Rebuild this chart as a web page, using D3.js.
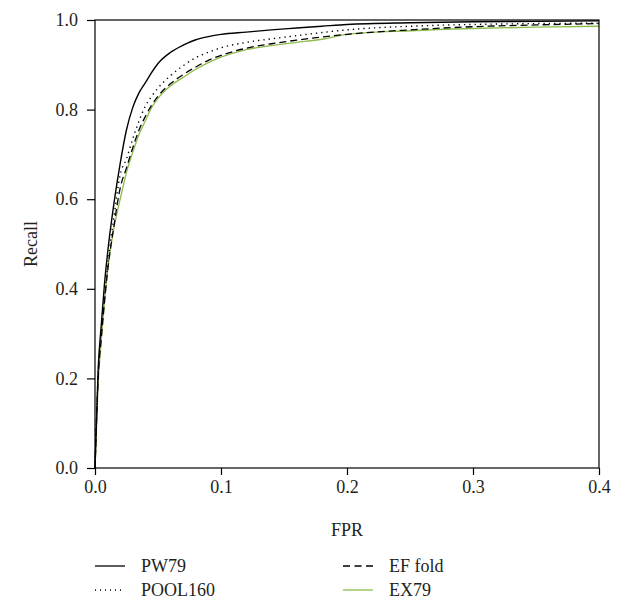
<!DOCTYPE html>
<html>
<head>
<meta charset="utf-8">
<script src="https://cdn.jsdelivr.net/npm/d3@7"></script>
<style>
  body { margin: 0; background: #fff; }
  svg text { font-family: 'Liberation Serif', 'Times New Roman', 'DejaVu Serif', serif !important; fill: #231f20; }
</style>
</head>
<body>
<svg id="roc_svg"></svg>
<script>
// shared FPR grid and recall per model
var fpr = [0, 0.0025, 0.005, 0.0075, 0.01, 0.015, 0.02, 0.025, 0.03, 0.035, 0.04, 0.045, 0.05,
  0.06, 0.07, 0.08, 0.09, 0.1, 0.12, 0.14, 0.16, 0.18, 0.2, 0.25, 0.3, 0.35, 0.4];
var pw79 = [0, 0.22, 0.32, 0.41, 0.48, 0.59, 0.68, 0.755, 0.805, 0.838, 0.86, 0.883, 0.903,
  0.928, 0.944, 0.956, 0.963, 0.968, 0.973, 0.978, 0.982, 0.986, 0.99, 0.994, 0.996, 0.997, 0.998];
var pool160 = [0, 0.21, 0.30, 0.38, 0.45, 0.56, 0.655, 0.69, 0.735, 0.775, 0.808, 0.83, 0.848,
  0.876, 0.898, 0.916, 0.928, 0.938, 0.95, 0.958, 0.965, 0.972, 0.978, 0.986, 0.99, 0.992, 0.993];
var efFold = [0, 0.2, 0.29, 0.37, 0.44, 0.54, 0.625, 0.67, 0.715, 0.755, 0.785, 0.81, 0.83,
  0.858, 0.878, 0.895, 0.91, 0.921, 0.937, 0.947, 0.955, 0.962, 0.968, 0.978, 0.985, 0.989, 0.992];
var ex79 = [0, 0.19, 0.285, 0.37, 0.44, 0.535, 0.60, 0.66, 0.705, 0.745, 0.775, 0.805, 0.825,
  0.853, 0.872, 0.89, 0.905, 0.917, 0.934, 0.943, 0.95, 0.957, 0.968, 0.976, 0.981, 0.984, 0.986];
var seriesNames = ["PW79", "POOL160", "EF fold", "EX79"];
var xTicks = [0, 0.1, 0.2, 0.3, 0.4];
var yTicks = [0, 0.2, 0.4, 0.6, 0.8, 1.0];

var svgWidth = 631, svgHeight = 602;
var margin = { top: 20, right: 32, bottom: 134, left: 95 };
var width = svgWidth - margin.left - margin.right;
var height = svgHeight - margin.top - margin.bottom;
var fontSize = 18;

var svg = d3.select('#roc_svg')
  .attr('width', svgWidth)
  .attr('height', svgHeight);

var chart = svg.append('g')
  .attr('transform', `translate(${margin.left}, ${margin.top})`);

var x = d3.scaleLinear().domain([0, 0.4]).range([0, width]);
var y = d3.scaleLinear().domain([0, 1]).range([height, 0]);

var styles = {
  "PW79":    { color: "#000", dash: null, w: 1.4, legendDash: null },
  "POOL160": { color: "#000", dash: "1.3,4", w: 1.4, legendDash: "1,4" },
  "EF fold": { color: "#000", dash: "7,4", w: 1.3, legendDash: "7,4.5" },
  "EX79":    { color: "#8fbb4c", dash: null, w: 1.3, legendDash: null }
};
var values = [pw79, pool160, efFold, ex79];

var line = d3.line()
  .x(d => x(d[0]))
  .y(d => y(d[1]))
  .curve(d3.curveMonotoneX);

// draw in reverse so the solid black sits on top
seriesNames.slice().reverse().forEach(function(name) {
  var vals = values[seriesNames.indexOf(name)];
  var st = styles[name];
  chart.append('path')
    .datum(fpr.map((f, i) => [f, vals[i]]))
    .attr('fill', 'none')
    .attr('stroke', st.color)
    .attr('stroke-width', st.w)
    .attr('stroke-dasharray', st.dash)
    .attr('d', line);
});

// frame
chart.append('rect')
  .attr('width', width).attr('height', height)
  .attr('fill', 'none').attr('stroke', '#000').attr('stroke-width', 1.2);

var xAxis = chart.append('g')
  .attr('transform', `translate(0, ${height})`)
  .call(d3.axisBottom(x).tickValues(xTicks).tickFormat(d3.format('.1f')).tickSize(7).tickPadding(5));
var yAxis = chart.append('g')
  .call(d3.axisLeft(y).tickValues(yTicks).tickFormat(d3.format('.1f')).tickSize(8).tickPadding(9));
[xAxis, yAxis].forEach(function(a) {
  a.attr('font-family', null).attr('font-size', fontSize);
  a.select('.domain').remove();
  a.selectAll('line').attr('stroke', '#000').attr('stroke-width', 1.2);
});

//axis titles
svg.append('text')
  .attr('x', margin.left + width / 2)
  .attr('y', 536)
  .attr('text-anchor', 'middle')
  .attr('font-size', fontSize)
  .text('FPR');
svg.append('text')
  .attr('transform', `translate(37, ${margin.top + height / 2}) rotate(-90)`)
  .attr('text-anchor', 'middle')
  .attr('font-size', fontSize)
  .text('Recall');

//legend
var legendPos = [[95, 566], [95, 590], [343, 566], [343, 590]];
seriesNames.forEach(function(name, i) {
  var st = styles[name];
  var g = svg.append('g').attr('transform', `translate(${legendPos[i][0]}, ${legendPos[i][1]})`);
  g.append('line')
    .attr('x1', 0).attr('x2', 30).attr('y1', 0).attr('y2', 0)
    .attr('stroke', st.color)
    .attr('stroke-width', 1.3)
    .attr('stroke-dasharray', st.legendDash);
  g.append('text')
    .attr('x', 46).attr('y', 0).attr('dy', '0.35em')
    .attr('font-size', fontSize)
    .text(name);
});
</script>
</body>
</html>
